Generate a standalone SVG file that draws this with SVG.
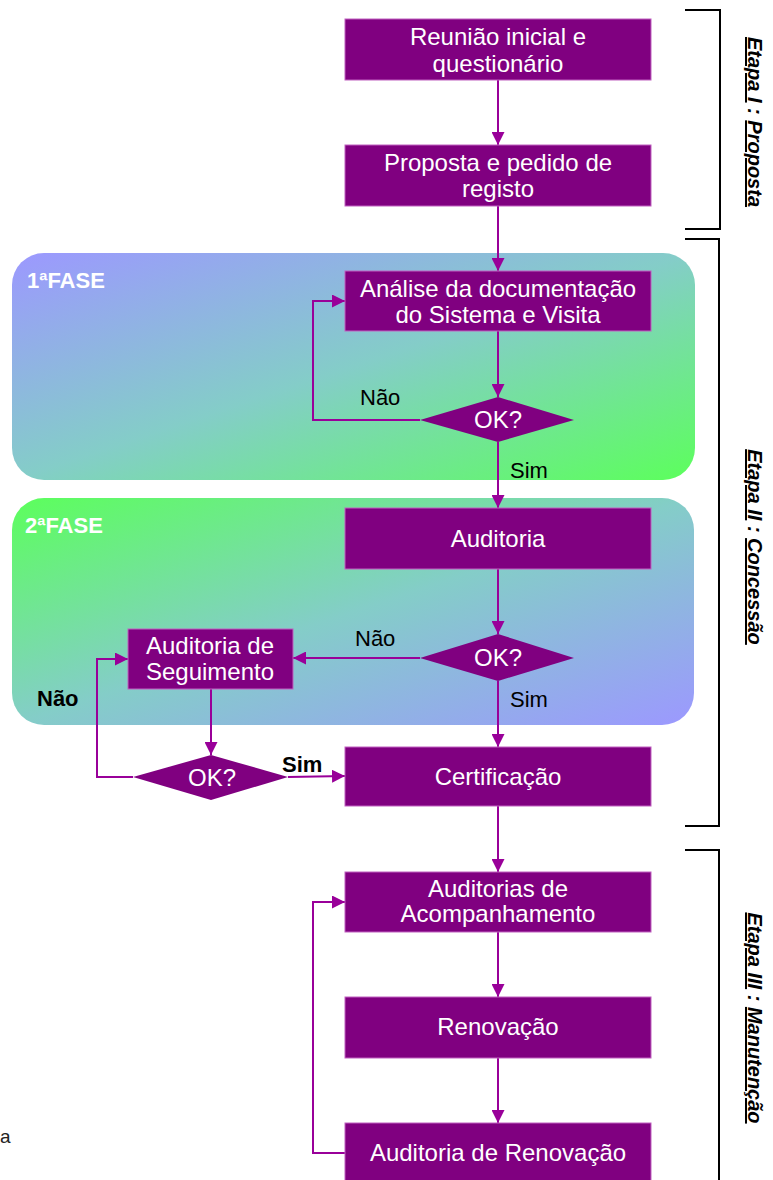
<svg xmlns="http://www.w3.org/2000/svg" width="773" height="1180" viewBox="0 0 773 1180">
<style>
.box{fill:#800080;stroke:#c060c0;stroke-width:1}
.bt{font-family:"Liberation Sans",Arial,sans-serif;font-size:24px;fill:#fff;text-anchor:middle}
.lbl{font-family:"Liberation Sans",Arial,sans-serif;font-size:22px;fill:#000}
.lb{font-family:"Liberation Sans",Arial,sans-serif;font-size:22px;font-weight:bold;fill:#000}
.fase{font-family:"Liberation Sans",Arial,sans-serif;font-size:22px;font-weight:bold;fill:#fff}
.con{fill:none;stroke:#990099;stroke-width:2}
.brk{fill:none;stroke:#000;stroke-width:2}
.et{font-family:"Liberation Sans",Arial,sans-serif;font-size:20px;font-weight:bold;font-style:italic;fill:#000;text-anchor:middle}
</style>
<defs>
<marker id="ah" markerUnits="userSpaceOnUse" markerWidth="13" markerHeight="13" refX="13" refY="6.5" orient="auto">
<path d="M0,0 L13,6.5 L0,13 z" fill="#990099"/>
</marker>
<linearGradient id="g1" x1="0" y1="0" x2="1" y2="1">
<stop offset="0" stop-color="#9c98ff"/>
<stop offset="0.5" stop-color="#84cdc8"/>
<stop offset="1" stop-color="#5cff5c"/>
</linearGradient>
<linearGradient id="g2" x1="0" y1="0" x2="1" y2="1">
<stop offset="0" stop-color="#5cff5c"/>
<stop offset="0.5" stop-color="#84cdc8"/>
<stop offset="1" stop-color="#9c98ff"/>
</linearGradient>
</defs>

<g id="fase1">
<rect x="12" y="253" width="683" height="227" rx="32" fill="url(#g1)"/>
<text class="fase" x="27" y="288">1ªFASE</text>
</g>
<g id="fase2">
<rect x="12" y="498" width="682" height="227" rx="32" fill="url(#g2)"/>
<text class="fase" x="25" y="533">2ªFASE</text>
</g>

<g id="connectors">
<path class="con" d="M498,80 V145" marker-end="url(#ah)"/>
<path class="con" d="M498,206 V271" marker-end="url(#ah)"/>
<path class="con" d="M498,331 V397" marker-end="url(#ah)"/>
<path class="con" d="M420,420 H313 V301 H345" marker-end="url(#ah)"/>
<path class="con" d="M498,442 V508" marker-end="url(#ah)"/>
<path class="con" d="M498,569 V634" marker-end="url(#ah)"/>
<path class="con" d="M420,658 H293" marker-end="url(#ah)"/>
<path class="con" d="M498,681 V747" marker-end="url(#ah)"/>
<path class="con" d="M211,689 V755" marker-end="url(#ah)"/>
<path class="con" d="M133,777 H97 V659 H128" marker-end="url(#ah)"/>
<path class="con" d="M288,777 L345,776" marker-end="url(#ah)"/>
<path class="con" d="M498,806 V872" marker-end="url(#ah)"/>
<path class="con" d="M498,932 V997" marker-end="url(#ah)"/>
<path class="con" d="M498,1058 V1123" marker-end="url(#ah)"/>
<path class="con" d="M345,1153 H313 V902 H345" marker-end="url(#ah)"/>
<text class="lbl" x="360" y="405">Não</text>
<text class="lbl" x="510" y="478">Sim</text>
<text class="lbl" x="355" y="646">Não</text>
<text class="lbl" x="510" y="707">Sim</text>
<text class="lb" x="37" y="706">Não</text>
<text class="lb" x="282" y="772">Sim</text>
</g>

<g id="n1">
<rect class="box" x="345" y="19" width="306" height="61"/>
<text class="bt" x="498" y="45">Reunião inicial e</text>
<text class="bt" x="498" y="72">questionário</text>
</g>
<g id="n2">
<rect class="box" x="345" y="145" width="306" height="61"/>
<text class="bt" x="498" y="171">Proposta e pedido de</text>
<text class="bt" x="498" y="197">registo</text>
</g>
<g id="n3">
<rect class="box" x="345" y="271" width="306" height="60"/>
<text class="bt" x="498" y="297">Análise da documentação</text>
<text class="bt" x="498" y="323">do Sistema e Visita</text>
</g>
<g id="d1">
<polygon points="498,397 574,420 498,442 420,420" fill="#800080"/>
<text class="bt" x="498" y="428">OK?</text>
</g>
<g id="n4">
<rect class="box" x="345" y="508" width="306" height="61"/>
<text class="bt" x="498" y="547">Auditoria</text>
</g>
<g id="d2">
<polygon points="498,634 574,658 498,681 420,658" fill="#800080"/>
<text class="bt" x="498" y="666">OK?</text>
</g>
<g id="n5">
<rect class="box" x="128" y="629" width="165" height="60"/>
<text class="bt" x="210" y="654">Auditoria de</text>
<text class="bt" x="210" y="680">Seguimento</text>
</g>
<g id="d3">
<polygon points="211,755 288,777 211,800 133,777" fill="#800080"/>
<text class="bt" x="212" y="786">OK?</text>
</g>
<g id="n6">
<rect class="box" x="345" y="747" width="306" height="59"/>
<text class="bt" x="498" y="785">Certificação</text>
</g>
<g id="n7">
<rect class="box" x="345" y="872" width="306" height="60"/>
<text class="bt" x="498" y="897">Auditorias de</text>
<text class="bt" x="498" y="922">Acompanhamento</text>
</g>
<g id="n8">
<rect class="box" x="345" y="997" width="306" height="61"/>
<text class="bt" x="498" y="1035">Renovação</text>
</g>
<g id="n9">
<rect class="box" x="345" y="1123" width="306" height="62"/>
<text class="bt" x="498" y="1161">Auditoria de Renovação</text>
</g>

<g id="etapas">
<path class="brk" d="M685,10 H720 V229 H685"/>
<path class="brk" d="M685,239 H719 V826 H685"/>
<path class="brk" d="M685,850 H719 V1182"/>
<text class="et" transform="translate(748,122) rotate(90)"><tspan text-decoration="underline">Etapa I</tspan> : <tspan text-decoration="underline">Proposta</tspan></text>
<text class="et" transform="translate(748,547) rotate(90)"><tspan text-decoration="underline">Etapa II</tspan> : <tspan text-decoration="underline">Concessão</tspan></text>
<text class="et" transform="translate(748,1018) rotate(90)"><tspan text-decoration="underline">Etapa III</tspan> : <tspan text-decoration="underline">Manutenção</tspan></text>
</g>

<text x="0" y="1143" font-family="Liberation Sans, Arial, sans-serif" font-size="19" fill="#222">a</text>
</svg>
